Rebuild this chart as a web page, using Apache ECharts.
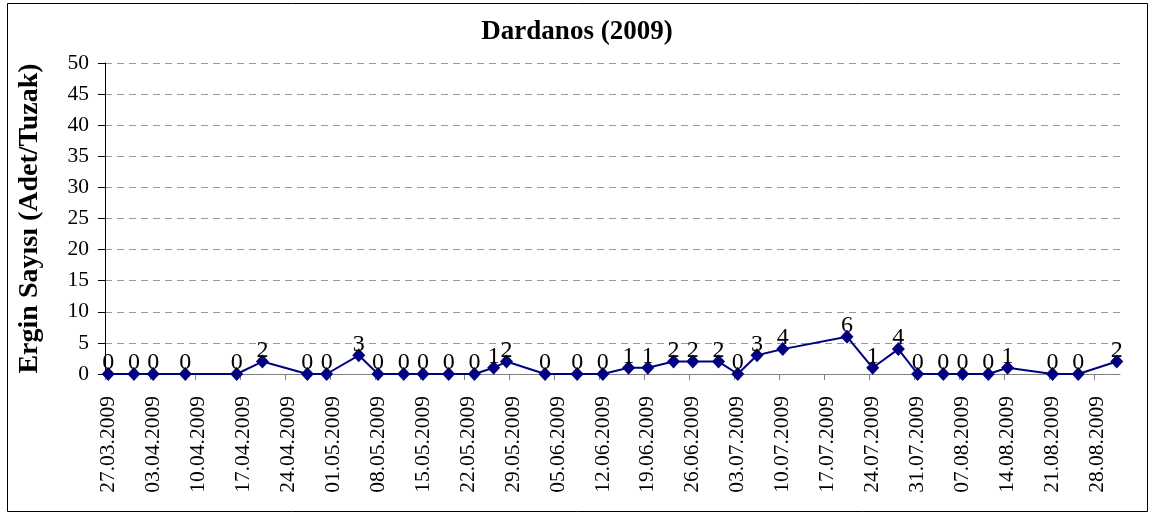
<!DOCTYPE html>
<html>
<head>
<meta charset="utf-8">
<script src="https://cdn.jsdelivr.net/npm/echarts@6/dist/echarts.min.js"></script>
<style>
html,body{margin:0;padding:0;background:#fff;}
#chart{width:1154px;height:514px;}
</style>
</head>
<body>
<div id="chart"></div>
<script>
// Sampling dates and adult counts (Ergin Sayısı)
const sampleDates = ['27.03.2009','31.03.2009','03.04.2009','08.04.2009','16.04.2009','20.04.2009','27.04.2009','30.04.2009','05.05.2009','08.05.2009','12.05.2009','15.05.2009','19.05.2009','23.05.2009','26.05.2009','28.05.2009','03.06.2009','08.06.2009','12.06.2009','16.06.2009','19.06.2009','23.06.2009','26.06.2009','30.06.2009','03.07.2009','06.07.2009','10.07.2009','20.07.2009','24.07.2009','28.07.2009','31.07.2009','04.08.2009','07.08.2009','11.08.2009','14.08.2009','21.08.2009','25.08.2009','31.08.2009'];
const counts = [0,0,0,0,0,2,0,0,3,0,0,0,0,0,1,2,0,0,0,1,1,2,2,2,0,3,4,6,1,4,0,0,0,0,1,0,0,2];
// Weekly axis tick labels
const tickLabels = ['27.03.2009','03.04.2009','10.04.2009','17.04.2009','24.04.2009','01.05.2009','08.05.2009','15.05.2009','22.05.2009','29.05.2009','05.06.2009','12.06.2009','19.06.2009','26.06.2009','03.07.2009','10.07.2009','17.07.2009','24.07.2009','31.07.2009','07.08.2009','14.08.2009','21.08.2009','28.08.2009'];
const yTicks = [0,5,10,15,20,25,30,35,40,45,50];
const axisEndDate = '01.09.2009';

const originDate = tickLabels[0];
function toUTC(s){const p=s.split('.').map(Number);return Date.UTC(p[2],p[1]-1,p[0]);}
function dayOf(s){return Math.round((toUTC(s)-toUTC(originDate))/86400000);}
function pad(n){return (n<10?'0':'')+n;}
function fmtDay(v){const d=new Date(toUTC(originDate)+Math.floor(v+1e-6)*86400000);return pad(d.getUTCDate())+'.'+pad(d.getUTCMonth()+1)+'.'+d.getUTCFullYear();}

const tickDays = tickLabels.map(dayOf);
const labelDays = tickDays.map(d=>d+0.5);
const seriesData = sampleDates.map((s,i)=>[dayOf(s)+0.5, counts[i]]);

const FONT = '"Liberation Serif","Times New Roman",serif';
const chart = echarts.init(document.getElementById('chart'), null, {renderer:'canvas'});
chart.setOption({
  animation:false,
  backgroundColor:'#fff',
  title:{
    text:'Dardanos (2009)', left:'center', top:14,
    textStyle:{fontFamily:FONT, fontWeight:'bold', fontSize:27, color:'#000'}
  },
  graphic:[{
    type:'rect', shape:{x:7.5,y:3.5,width:1140,height:508},
    style:{fill:'none', stroke:'#000', lineWidth:1}, silent:true, z:-1
  }],
  grid:{left:105, right:34, top:63, bottom:140, containLabel:false},
  xAxis:{
    type:'value', min:0, max:dayOf(axisEndDate),
    axisLine:{show:true, lineStyle:{color:'#808080', width:1}},
    axisTick:{show:true, customValues:tickDays, length:6, lineStyle:{color:'#808080'}},
    axisLabel:{customValues:labelDays, rotate:90, margin:22, formatter:v=>fmtDay(v),
      fontFamily:FONT, fontSize:21.5, color:'#000'},
    splitLine:{show:false}
  },
  yAxis:{
    type:'value', min:yTicks[0], max:yTicks[yTicks.length-1], interval:5,
    name:'Ergin Sayısı (Adet/Tuzak)', nameLocation:'middle', nameGap:61, nameRotate:90,
    nameTextStyle:{fontFamily:FONT, fontWeight:'bold', fontSize:28, color:'#000'},
    axisLine:{show:true, lineStyle:{color:'#000', width:1}},
    axisTick:{show:true, length:7, inside:false, lineStyle:{color:'#000'}},
    axisLabel:{fontFamily:FONT, fontSize:21.5, color:'#000', margin:16},
    splitLine:{show:true, lineStyle:{color:'#999', type:[7,5], width:1}}
  },
  series:[{
    type:'line', data:seriesData,
    lineStyle:{color:'#000080', width:2},
    itemStyle:{color:'#000080'},
    symbol:'diamond', symbolSize:[13,14], showAllSymbol:true,
    label:{show:true, position:'top', distance:-8, offset:[3,0], fontFamily:FONT, fontSize:24, color:'#000',
      formatter:p=>String(p.value[1])},
    labelLayout:{hideOverlap:false}
  }]
});
</script>
</body>
</html>
